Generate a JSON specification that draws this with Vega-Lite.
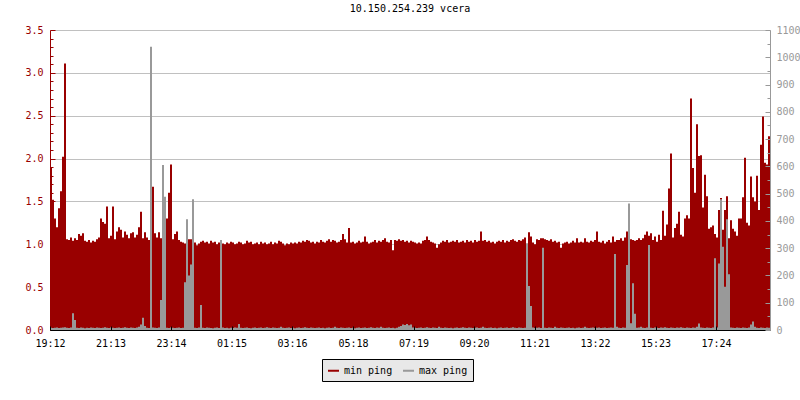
{
"$schema": "https://vega.github.io/schema/vega-lite/v6.json",
"width": 720, "height": 300,
"autosize": {"type": "none"},
"padding": {"left": 50, "top": 30, "right": 30, "bottom": 70},
"background": "white",
"title": {"text": "10.150.254.239 vcera", "font": "DejaVu Sans Mono", "fontSize": 10, "fontWeight": "normal", "color": "black", "offset": 11, "anchor": "middle"},
"config": {"view": {"stroke": null}, "font": "DejaVu Sans Mono"},
"data": {"values": [
{"t":0,"n":1.9,"x":8},{"t":4,"n":1.52,"x":7},{"t":8,"n":1.3,"x":8},{"t":12,"n":1.2,"x":9},{"t":16,"n":1.42,"x":7},{"t":20,"n":1.62,"x":8},{"t":24,"n":2.02,"x":9},{"t":28,"n":3.11,"x":10},{"t":32,"n":1.06,"x":8},{"t":36,"n":1.05,"x":7},
{"t":40,"n":1.08,"x":9},{"t":44,"n":1.04,"x":61},{"t":48,"n":1.07,"x":37},{"t":52,"n":1.05,"x":8},{"t":56,"n":1.12,"x":7},{"t":60,"n":1.1,"x":9},{"t":64,"n":1.13,"x":8},{"t":68,"n":1.04,"x":6},{"t":72,"n":1.03,"x":8},{"t":76,"n":1.05,"x":7},
{"t":80,"n":1.02,"x":9},{"t":84,"n":1.04,"x":8},{"t":88,"n":1.03,"x":7},{"t":92,"n":1.06,"x":9},{"t":96,"n":1.08,"x":8},{"t":100,"n":1.3,"x":7},{"t":104,"n":1.26,"x":8},{"t":108,"n":1.24,"x":10},{"t":112,"n":1.44,"x":8},{"t":116,"n":1.07,"x":7},
{"t":120,"n":1.1,"x":9},{"t":124,"n":1.44,"x":8},{"t":128,"n":1.06,"x":7},{"t":132,"n":1.15,"x":8},{"t":136,"n":1.2,"x":9},{"t":140,"n":1.17,"x":7},{"t":144,"n":1.08,"x":8},{"t":148,"n":1.15,"x":10},{"t":152,"n":1.11,"x":8},{"t":156,"n":1.07,"x":7},
{"t":160,"n":1.13,"x":9},{"t":164,"n":1.14,"x":8},{"t":168,"n":1.08,"x":7},{"t":172,"n":1.11,"x":9},{"t":176,"n":1.2,"x":12},{"t":180,"n":1.38,"x":20},{"t":184,"n":1.07,"x":45},{"t":188,"n":1.14,"x":15},{"t":192,"n":1.08,"x":8},{"t":196,"n":1.05,"x":7},
{"t":200,"n":1.02,"x":1039},{"t":204,"n":1.67,"x":9},{"t":208,"n":1.13,"x":8},{"t":212,"n":1.08,"x":7},{"t":216,"n":1.14,"x":9},{"t":220,"n":1.07,"x":110},{"t":224,"n":0.98,"x":605},{"t":228,"n":1.3,"x":489},{"t":232,"n":1.3,"x":8},{"t":236,"n":1.6,"x":7},
{"t":240,"n":1.93,"x":9},{"t":244,"n":1.06,"x":8},{"t":248,"n":1.12,"x":7},{"t":252,"n":1.15,"x":8},{"t":256,"n":1.05,"x":9},{"t":260,"n":1.03,"x":7},{"t":264,"n":1.02,"x":8},{"t":268,"n":1.01,"x":175},{"t":272,"n":1.05,"x":406},{"t":276,"n":1.06,"x":200},
{"t":280,"n":1.06,"x":240},{"t":284,"n":1.05,"x":479},{"t":288,"n":1.02,"x":8},{"t":292,"n":0.99,"x":7},{"t":296,"n":1.01,"x":9},{"t":300,"n":1.03,"x":92},{"t":304,"n":1.04,"x":8},{"t":308,"n":1.02,"x":7},{"t":312,"n":1.03,"x":9},{"t":316,"n":1.01,"x":8},
{"t":320,"n":1.04,"x":7},{"t":324,"n":1.02,"x":6},{"t":328,"n":1.03,"x":8},{"t":332,"n":1.0,"x":9},{"t":336,"n":1.02,"x":7},{"t":340,"n":1.03,"x":330},{"t":344,"n":1.01,"x":9},{"t":348,"n":1.0,"x":7},{"t":352,"n":1.02,"x":8},{"t":356,"n":1.01,"x":6},
{"t":360,"n":1.03,"x":8},{"t":364,"n":1.02,"x":7},{"t":368,"n":1.0,"x":9},{"t":372,"n":1.01,"x":8},{"t":376,"n":1.03,"x":22},{"t":380,"n":1.02,"x":8},{"t":384,"n":1.0,"x":7},{"t":388,"n":1.01,"x":8},{"t":392,"n":1.04,"x":9},{"t":396,"n":1.02,"x":7},
{"t":400,"n":1.03,"x":6},{"t":404,"n":1.0,"x":8},{"t":408,"n":1.01,"x":9},{"t":412,"n":1.02,"x":7},{"t":416,"n":1.0,"x":8},{"t":420,"n":1.03,"x":9},{"t":424,"n":1.01,"x":7},{"t":428,"n":1.02,"x":8},{"t":432,"n":1.0,"x":10},{"t":436,"n":1.01,"x":8},
{"t":440,"n":1.03,"x":7},{"t":444,"n":1.0,"x":9},{"t":448,"n":1.02,"x":8},{"t":452,"n":1.01,"x":7},{"t":456,"n":1.04,"x":8},{"t":460,"n":1.03,"x":12},{"t":464,"n":1.01,"x":8},{"t":468,"n":0.99,"x":7},{"t":472,"n":1.01,"x":8},{"t":476,"n":1.0,"x":9},
{"t":480,"n":1.02,"x":7},{"t":484,"n":1.01,"x":8},{"t":488,"n":1.02,"x":6},{"t":492,"n":1.01,"x":8},{"t":496,"n":1.03,"x":9},{"t":500,"n":1.02,"x":7},{"t":504,"n":1.04,"x":8},{"t":508,"n":1.03,"x":10},{"t":512,"n":1.05,"x":8},{"t":516,"n":1.04,"x":7},
{"t":520,"n":1.02,"x":9},{"t":524,"n":1.03,"x":8},{"t":528,"n":1.01,"x":7},{"t":532,"n":1.03,"x":8},{"t":536,"n":1.02,"x":9},{"t":540,"n":1.05,"x":7},{"t":544,"n":1.03,"x":8},{"t":548,"n":1.02,"x":6},{"t":552,"n":1.04,"x":8},{"t":556,"n":1.06,"x":9},
{"t":560,"n":1.03,"x":7},{"t":564,"n":1.05,"x":8},{"t":568,"n":1.04,"x":12},{"t":572,"n":1.02,"x":8},{"t":576,"n":1.03,"x":7},{"t":580,"n":1.05,"x":9},{"t":584,"n":1.12,"x":8},{"t":588,"n":1.06,"x":7},{"t":592,"n":1.02,"x":8},{"t":596,"n":1.19,"x":9},
{"t":600,"n":1.02,"x":7},{"t":604,"n":1.03,"x":8},{"t":608,"n":1.01,"x":6},{"t":612,"n":1.02,"x":8},{"t":616,"n":1.04,"x":9},{"t":620,"n":1.02,"x":7},{"t":624,"n":1.03,"x":8},{"t":628,"n":1.09,"x":9},{"t":632,"n":1.03,"x":7},{"t":636,"n":1.01,"x":8},
{"t":640,"n":1.02,"x":10},{"t":644,"n":1.03,"x":8},{"t":648,"n":1.05,"x":7},{"t":652,"n":1.02,"x":9},{"t":656,"n":1.04,"x":8},{"t":660,"n":1.03,"x":12},{"t":664,"n":1.05,"x":8},{"t":668,"n":1.07,"x":7},{"t":672,"n":1.03,"x":8},{"t":676,"n":1.02,"x":9},
{"t":680,"n":1.05,"x":7},{"t":684,"n":0.93,"x":8},{"t":688,"n":1.05,"x":6},{"t":692,"n":1.04,"x":8},{"t":696,"n":1.06,"x":12},{"t":700,"n":1.04,"x":15},{"t":704,"n":1.05,"x":20},{"t":708,"n":1.03,"x":18},{"t":712,"n":1.04,"x":22},{"t":716,"n":1.02,"x":17},
{"t":720,"n":1.04,"x":20},{"t":724,"n":1.03,"x":9},{"t":728,"n":1.02,"x":8},{"t":732,"n":1.01,"x":7},{"t":736,"n":1.02,"x":8},{"t":740,"n":1.01,"x":9},{"t":744,"n":1.04,"x":7},{"t":748,"n":1.05,"x":8},{"t":752,"n":1.09,"x":10},{"t":756,"n":1.05,"x":8},
{"t":760,"n":1.03,"x":7},{"t":764,"n":1.02,"x":9},{"t":768,"n":1.01,"x":8},{"t":772,"n":0.96,"x":7},{"t":776,"n":1.0,"x":12},{"t":780,"n":1.02,"x":8},{"t":784,"n":1.04,"x":7},{"t":788,"n":1.03,"x":9},{"t":792,"n":1.05,"x":8},{"t":796,"n":1.02,"x":7},
{"t":800,"n":1.03,"x":8},{"t":804,"n":1.04,"x":6},{"t":808,"n":1.03,"x":8},{"t":812,"n":1.05,"x":9},{"t":816,"n":1.02,"x":7},{"t":820,"n":1.03,"x":8},{"t":824,"n":1.04,"x":10},{"t":828,"n":1.02,"x":8},{"t":832,"n":1.05,"x":7},{"t":836,"n":1.03,"x":9},
{"t":840,"n":1.04,"x":8},{"t":844,"n":1.02,"x":7},{"t":848,"n":1.05,"x":8},{"t":852,"n":1.03,"x":9},{"t":856,"n":1.04,"x":7},{"t":860,"n":1.15,"x":8},{"t":864,"n":1.04,"x":12},{"t":868,"n":1.05,"x":8},{"t":872,"n":1.03,"x":7},{"t":876,"n":1.04,"x":8},
{"t":880,"n":1.02,"x":9},{"t":884,"n":1.03,"x":7},{"t":888,"n":1.01,"x":8},{"t":892,"n":1.03,"x":6},{"t":896,"n":1.04,"x":8},{"t":900,"n":1.03,"x":9},{"t":904,"n":1.05,"x":7},{"t":908,"n":1.02,"x":8},{"t":912,"n":1.04,"x":9},{"t":916,"n":1.03,"x":7},
{"t":920,"n":1.05,"x":8},{"t":924,"n":1.06,"x":10},{"t":928,"n":1.04,"x":8},{"t":932,"n":1.03,"x":7},{"t":936,"n":1.05,"x":9},{"t":940,"n":1.04,"x":8},{"t":944,"n":1.06,"x":7},{"t":948,"n":1.08,"x":8},{"t":952,"n":1.0,"x":318},{"t":956,"n":1.14,"x":161},
{"t":960,"n":1.09,"x":88},{"t":964,"n":1.02,"x":9},{"t":968,"n":1.0,"x":7},{"t":972,"n":1.06,"x":8},{"t":976,"n":1.05,"x":9},{"t":980,"n":1.07,"x":7},{"t":984,"n":1.07,"x":302},{"t":988,"n":1.06,"x":8},{"t":992,"n":1.05,"x":7},{"t":996,"n":1.04,"x":9},
{"t":1000,"n":1.06,"x":8},{"t":1004,"n":1.03,"x":7},{"t":1008,"n":1.04,"x":12},{"t":1012,"n":1.02,"x":8},{"t":1016,"n":1.03,"x":7},{"t":1020,"n":0.96,"x":9},{"t":1024,"n":1.01,"x":8},{"t":1028,"n":1.02,"x":7},{"t":1032,"n":1.03,"x":8},{"t":1036,"n":1.01,"x":9},
{"t":1040,"n":1.02,"x":7},{"t":1044,"n":1.04,"x":8},{"t":1048,"n":1.02,"x":6},{"t":1052,"n":1.07,"x":8},{"t":1056,"n":1.02,"x":9},{"t":1060,"n":1.03,"x":7},{"t":1064,"n":1.02,"x":8},{"t":1068,"n":1.07,"x":12},{"t":1072,"n":1.03,"x":8},{"t":1076,"n":1.02,"x":7},
{"t":1080,"n":1.04,"x":8},{"t":1084,"n":1.03,"x":9},{"t":1088,"n":1.05,"x":7},{"t":1092,"n":1.15,"x":8},{"t":1096,"n":1.03,"x":9},{"t":1100,"n":1.02,"x":7},{"t":1104,"n":1.04,"x":8},{"t":1108,"n":1.01,"x":9},{"t":1112,"n":1.03,"x":7},{"t":1116,"n":1.05,"x":8},
{"t":1120,"n":1.02,"x":9},{"t":1124,"n":1.09,"x":8},{"t":1128,"n":1.03,"x":279},{"t":1132,"n":1.05,"x":12},{"t":1136,"n":1.05,"x":8},{"t":1140,"n":1.07,"x":7},{"t":1144,"n":1.04,"x":9},{"t":1148,"n":1.08,"x":8},{"t":1152,"n":1.15,"x":238},{"t":1156,"n":1.06,"x":464},
{"t":1160,"n":1.06,"x":25},{"t":1164,"n":1.05,"x":171},{"t":1168,"n":1.04,"x":60},{"t":1172,"n":1.05,"x":8},{"t":1176,"n":1.07,"x":9},{"t":1180,"n":1.05,"x":12},{"t":1184,"n":1.07,"x":8},{"t":1188,"n":1.11,"x":7},{"t":1192,"n":1.15,"x":9},{"t":1196,"n":1.1,"x":312},
{"t":1200,"n":1.13,"x":8},{"t":1204,"n":1.05,"x":7},{"t":1208,"n":1.09,"x":9},{"t":1212,"n":1.03,"x":8},{"t":1216,"n":1.11,"x":7},{"t":1220,"n":1.05,"x":9},{"t":1224,"n":1.39,"x":8},{"t":1228,"n":1.1,"x":10},{"t":1232,"n":1.23,"x":8},{"t":1236,"n":1.65,"x":7},
{"t":1240,"n":2.06,"x":9},{"t":1244,"n":1.08,"x":8},{"t":1248,"n":1.19,"x":7},{"t":1252,"n":1.24,"x":9},{"t":1256,"n":1.38,"x":8},{"t":1260,"n":1.11,"x":10},{"t":1264,"n":1.09,"x":8},{"t":1268,"n":1.3,"x":7},{"t":1272,"n":1.34,"x":9},{"t":1276,"n":1.3,"x":8},
{"t":1280,"n":2.7,"x":7},{"t":1284,"n":1.89,"x":9},{"t":1288,"n":1.6,"x":8},{"t":1292,"n":2.4,"x":12},{"t":1296,"n":2.03,"x":24},{"t":1300,"n":2.04,"x":9},{"t":1304,"n":1.43,"x":8},{"t":1308,"n":1.81,"x":7},{"t":1312,"n":1.56,"x":9},{"t":1316,"n":1.18,"x":8},
{"t":1320,"n":1.2,"x":7},{"t":1324,"n":1.22,"x":9},{"t":1328,"n":1.12,"x":263},{"t":1332,"n":1.08,"x":9},{"t":1336,"n":1.4,"x":244},{"t":1340,"n":1.54,"x":479},{"t":1344,"n":1.17,"x":305},{"t":1348,"n":1.4,"x":159},{"t":1352,"n":1.56,"x":406},{"t":1356,"n":1.07,"x":204},
{"t":1360,"n":1.28,"x":9},{"t":1364,"n":1.18,"x":8},{"t":1368,"n":1.15,"x":7},{"t":1372,"n":1.1,"x":9},{"t":1376,"n":1.3,"x":8},{"t":1380,"n":1.3,"x":7},{"t":1384,"n":1.55,"x":9},{"t":1388,"n":2.01,"x":8},{"t":1392,"n":1.25,"x":7},{"t":1396,"n":1.22,"x":9},
{"t":1400,"n":1.79,"x":20},{"t":1404,"n":1.55,"x":31},{"t":1408,"n":1.5,"x":12},{"t":1412,"n":1.8,"x":8},{"t":1416,"n":1.4,"x":7},{"t":1420,"n":2.16,"x":9},{"t":1424,"n":2.49,"x":8},{"t":1428,"n":1.95,"x":7},{"t":1432,"n":1.93,"x":9},{"t":1436,"n":2.26,"x":8},
{"t":1440,"n":2.26,"x":8}
]},
"layer": [
{
"mark": {"type": "area", "interpolate": "step-after", "clip": true},
"encoding": {
"x": {"field": "t", "type": "quantitative", "scale": {"domain": [0, 1440], "nice": false, "zero": false},
 "axis": {"values": [0,121,242,363,484,606,727,848,969,1090,1211,1332], "labelExpr": "timeFormat(datetime(2020,0,1,19,12+datum.value),'%H:%M')", "title": null, "grid": false, "domainColor": "black", "tickColor": "black", "tickSize": -4, "labelColor": "black", "labelFont": "DejaVu Sans Mono", "labelFontSize": 10, "labelPadding": 12, "labelFlush": false, "labelOverlap": false, "zindex": 1}},
"y": {"field": "n", "type": "quantitative", "scale": {"domain": [0, 3.5], "nice": false},
 "axis": {"orient": "left", "values": [0,0.1,0.2,0.3,0.4,0.5,0.6,0.7,0.8,0.9,1,1.1,1.2,1.3,1.4,1.5,1.6,1.7,1.8,1.9,2,2.1,2.2,2.3,2.4,2.5,2.6,2.7,2.8,2.9,3,3.1,3.2,3.3,3.4,3.5],
  "labelExpr": "round(datum.value*10) % 5 == 0 ? format(datum.value, '.1f') : ''",
  "title": null, "grid": true,
  "gridColor": {"condition": {"test": "round(datum.value*10) % 5 == 0", "value": "#c0c0c0"}, "value": "transparent"},
  "tickSize": {"condition": {"test": "round(datum.value*10) % 5 == 0", "value": -5}, "value": -3},
  "domainColor": "#990000", "tickColor": "#990000", "labelColor": "#990000", "labelFont": "DejaVu Sans Mono", "labelFontSize": 10, "labelPadding": 12, "labelOverlap": false, "labelFlush": false, "zindex": 0}},
"color": {"datum": "min ping", "type": "nominal",
 "scale": {"domain": ["min ping", "max ping"], "range": ["#990000", "#999999"]},
 "legend": {"orient": "none", "legendX": 272, "legendY": 329, "direction": "horizontal", "title": null,
  "symbolType": "stroke", "symbolSize": 121, "symbolStrokeWidth": 2,
  "labelFont": "DejaVu Sans Mono", "labelFontSize": 10, "labelColor": "black",
  "labelExpr": "datum.label == 'max ping' ? datum.label + '\u00a0\u00a0' : datum.label",
  "fillColor": "#e8e8e8", "strokeColor": "black", "padding": 5, "labelOffset": 4, "columnPadding": 6,
  "encode": {"symbols": {"update": {"stroke": {"scale": "color", "field": "value"}, "strokeWidth": {"value": 2}, "fill": {"value": "transparent"}}}}}}
}
},
{
"mark": {"type": "area", "interpolate": "step-after", "clip": true},
"encoding": {
"x": {"field": "t", "type": "quantitative"},
"y": {"field": "x", "type": "quantitative", "scale": {"domain": [0, 1100], "nice": false},
 "axis": {"orient": "right", "values": [0,50,100,150,200,250,300,350,400,450,500,550,600,650,700,750,800,850,900,950,1000,1050,1100],
  "labelExpr": "datum.value % 100 == 0 ? format(datum.value, 'd') : ''",
  "title": null, "grid": false,
  "tickSize": {"condition": {"test": "datum.value % 100 == 0", "value": -5}, "value": -3},
  "domainColor": "#999999", "tickColor": "#999999", "labelColor": "#999999", "labelFont": "DejaVu Sans Mono", "labelFontSize": 10, "labelPadding": 11, "labelOverlap": false, "labelFlush": false, "zindex": 1}},
"color": {"datum": "max ping", "type": "nominal"}
}
}
],
"resolve": {"scale": {"y": "independent"}}
}
